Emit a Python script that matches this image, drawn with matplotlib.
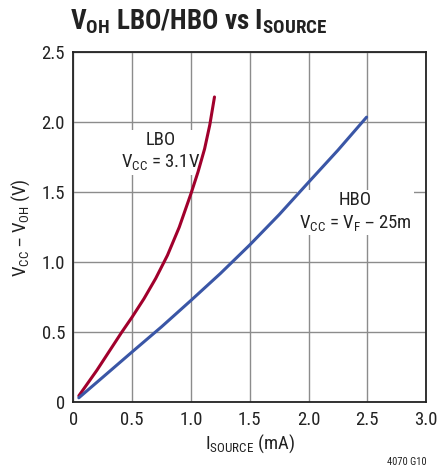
import matplotlib
matplotlib.use("Agg")
from matplotlib import pyplot as plt
from matplotlib import font_manager

# values
lbo_i = [0.046, 0.2, 0.41, 0.5, 0.6, 0.7, 0.8, 0.9, 1.0, 1.06, 1.116, 1.16, 1.2]
lbo_v = [0.047, 0.23, 0.5, 0.61, 0.74, 0.885, 1.05, 1.25, 1.49, 1.645, 1.81, 1.98, 2.18]
hbo_i = [0.046, 0.25, 0.5, 0.75, 1.0, 1.25, 1.5, 1.75, 2.0, 2.25, 2.494]
hbo_v = [0.033, 0.18, 0.361, 0.54, 0.728, 0.92, 1.124, 1.34, 1.571, 1.80, 2.036]
x_ticks = [0, 0.5, 1.0, 1.5, 2.0, 2.5, 3.0]
x_labels = ['0', '0.5', '1.0', '1.5', '2.0', '2.5', '3.0']
y_ticks = [0, 0.5, 1.0, 1.5, 2.0, 2.5]
y_labels = ['0', '0.5', '1.0', '1.5', '2.0', '2.5']

# pick a narrow sans if one is installed
names = set(f.name for f in font_manager.fontManager.ttflist)
stretch = 'normal'
family = 'Liberation Sans'
for cand in ['Liberation Sans Narrow', 'Roboto Condensed', 'Open Sans Condensed']:
    if cand in names:
        family = cand
        break
else:
    conds = [f for f in font_manager.fontManager.ttflist
             if f.name == 'DejaVu Sans' and 'ondensed' in str(f.stretch) + f.fname]
    if conds:
        family = 'DejaVu Sans'
        stretch = 'condensed'
plt.rcParams['font.family'] = [family, 'DejaVu Sans']
plt.rcParams['font.stretch'] = stretch

fig = plt.figure(figsize=(4.37, 4.74), dpi=100)
ax = fig.add_axes([0.168, 0.151, 0.807, 0.739])

ax.plot(lbo_i, lbo_v, color='#a1002c', lw=2.2, solid_capstyle='round', solid_joinstyle='round', zorder=3)
ax.plot(hbo_i, hbo_v, color='#3a56a6', lw=2.2, solid_capstyle='round', solid_joinstyle='round', zorder=3)

ax.set_xlim(0, 3)
ax.set_ylim(0, 2.5)
ax.set_xticks(x_ticks)
ax.set_xticklabels(x_labels)
ax.set_yticks(y_ticks)
ax.set_yticklabels(y_labels)
ax.tick_params(length=0, labelsize=13.5, pad=6, colors='#222222')
ax.grid(True, color='#8c8c8c', lw=1.0)
ax.set_axisbelow(True)
for s in ax.spines.values():
    s.set_linewidth(1.3)
    s.set_color('#222222')

ax.set_xlabel(r'$\mathregular{I_{SOURCE}}$ (mA)', fontsize=13.5, labelpad=3, color='#222222')
ax.set_ylabel(r'$\mathregular{V_{CC}}$ – $\mathregular{V_{OH}}$ (V)', fontsize=13.5, labelpad=7, color='#222222')

box = dict(facecolor='white', edgecolor='none', pad=1.5)
ax.text(0.74, 1.79, 'LBO\n' + r'$\mathregular{V_{CC}}$ = 3.1V', ha='center', va='center',
        fontsize=13.5, linespacing=1.25, bbox=box, color='#222222', zorder=2)
ax.text(2.40, 1.36, 'HBO\n' + r'$\mathregular{V_{CC}}$ = $\mathregular{V_F}$ – 25m', ha='center', va='center',
        fontsize=13.5, linespacing=1.25, bbox=box, color='#222222', zorder=2)

fig.text(0.16, 0.955, r'$\mathregular{V_{OH}}$ LBO/HBO vs $\mathregular{I_{SOURCE}}$', ha='left', va='center',
         fontsize=19.5, fontweight='bold', color='#222222')
fig.text(0.93, 0.015, '4070 G10', ha='center', va='bottom', fontsize=7.5, color='#222222')

fig.savefig('out.png', dpi=100)
